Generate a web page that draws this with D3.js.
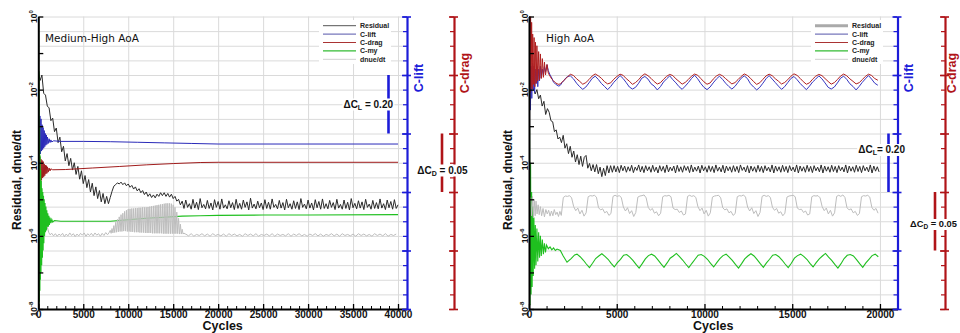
<!DOCTYPE html>
<html><head><meta charset="utf-8">
<script src="https://cdnjs.cloudflare.com/ajax/libs/d3/7.8.5/d3.min.js"></script>
<style>body{margin:0;background:#fff}svg{display:block;font-family:"Liberation Sans",Arial,sans-serif}</style>
</head><body><svg id="c" width="960" height="333"></svg>
<script>
// ---------------- shared labels / ticks ----------------
const legendNames = ["Residual","C-lift","C-drag","C-my","dnue/dt"];
const yLabelExps = [0,-2,-4,-6,-8];
const xTicksLeft = [0,5000,10000,15000,20000,25000,30000,35000,40000];
const xTicksRight = [0,5000,10000,15000,20000];
const liftDomain = [0,1.0];      // C-lift axis (unlabelled), major 0.20
const dragDomain = [0,0.25];     // C-drag axis (unlabelled), major 0.05
const titles = ["Medium-High AoA","High AoA"];

// ---------------- LEFT panel data (Medium-High AoA) ----------------
// residual log10, every 200 cycles from 0
const lResidStep = 200;
const lResid = [-1.50,-1.75,-1.60,-2.10,-2.15,-2.45,-2.50,-2.85,-2.78,-3.15,
-3.05,-3.45,-3.30,-3.70,-3.55,-3.95,-3.75,-4.08,-3.88,-4.20,
-4.00,-4.32,-4.10,-4.45,-4.22,-4.57,-4.35,-4.68,-4.46,-4.80,
-4.56,-4.90,-4.66,-4.98,-4.76,-5.07,-4.84,-5.12,-4.92,-5.12,
-4.95,-4.78,-4.64,-4.60,-4.55,-4.58,-4.53,-4.60,-4.55,-4.63,
-4.58,-4.67,-4.62,-4.72,-4.66,-4.77,-4.71,-4.82,-4.76,-4.87,
-4.80,-4.92,-4.85,-4.95,-4.88,-4.96,-4.86,-4.92,-4.82,-4.90,
-4.82,-4.92,-4.84,-4.94,-4.86,-4.98,-4.92,-5.05,-5.00,-5.15,
-5.05,
-5.25,-5.02,-5.22,-5.12,-5.27,-5.00,-5.24,-5.08,-5.28,-4.98,
-5.23,-5.14,-5.26,-5.03,-5.25,-5.10,-5.29,-5.01,-5.22,-5.06,
-5.27,-4.99,-5.24,-5.15,-5.26,-5.04,-5.23,-5.09,-5.28,-5.00,
-5.25,-5.11,-5.27,-5.02,-5.22,-5.07,-5.29,-4.97,-5.24,-5.13,
-5.26,-5.05,-5.23,-5.10,-5.28,-5.01,-5.25,-5.08,-5.27,-4.99,
-5.22,-5.14,-5.26,-5.03,-5.24,-5.09,-5.29,-5.00,-5.23,-5.12,
-5.27,-5.04,-5.25,-5.07,-5.28,-4.98,-5.22,-5.13,-5.26,-5.02,
-5.24,-5.10,-5.29,-5.01,-5.23,-5.06,-5.27,-4.99,-5.25,-5.12,
-5.26,-5.03,-5.22,-5.09,-5.28,-5.00,-5.24,-5.14,-5.27,-5.02,
-5.25,-5.08,-5.29,-4.98,-5.23,-5.11,-5.26,-5.04,-5.24,-5.07,
-5.28,-5.00,-5.22,-5.13,-5.27,-5.03,-5.25,-5.09,-5.26,-4.99,
-5.24,-5.12,-5.28,-5.02,-5.23,-5.06,-5.27,-5.01,-5.25,-5.15];
// C-lift [cycle, CL]
const lLift = [[0,0.60],[60,0.64],[120,0.55],[180,0.66],[240,0.53],[300,0.65],[360,0.54],[420,0.63],[480,0.545],[540,0.62],
[600,0.55],[660,0.61],[720,0.555],[780,0.60],[840,0.56],[900,0.595],[960,0.563],[1020,0.588],[1100,0.566],[1200,0.582],
[1300,0.569],[1400,0.578],[1500,0.571],[1700,0.575],[2500,0.573],[5000,0.573],[8000,0.572],[11000,0.570],[14000,0.568],
[17000,0.566],[20000,0.564],[25000,0.564],[30000,0.564],[35000,0.564],[40000,0.564]];
// C-drag [cycle, CD]
const lDrag = [[0,0.118],[60,0.126],[120,0.111],[180,0.130],[240,0.109],[300,0.128],[360,0.110],[420,0.127],[480,0.112],[540,0.126],
[600,0.113],[660,0.124],[720,0.114],[780,0.123],[840,0.1155],[900,0.1225],[960,0.116],[1020,0.1215],[1100,0.117],[1200,0.1205],
[1300,0.118],[1400,0.1198],[1600,0.1190],[3000,0.1192],[6000,0.1205],[9000,0.1218],[12000,0.1232],[15000,0.1243],[18000,0.1252],
[20000,0.1254],[30000,0.1254],[40000,0.1254]];
// C-my [cycle, log10]
const lMy = [[0,-8],[30,-0.2],[60,-8],[90,-1.5],[120,-7.8],[150,-3.0],[180,-7.5],[210,-3.8],[240,-7.2],[270,-4.2],
[300,-7.0],[340,-4.5],[380,-6.8],[420,-4.7],[460,-6.6],[500,-4.8],[540,-6.4],[580,-4.9],[620,-6.2],[660,-5.0],
[700,-6.0],[750,-5.1],[800,-5.9],[850,-5.2],[900,-5.85],[950,-5.3],[1000,-5.8],[1060,-5.38],[1120,-5.75],[1180,-5.45],
[1240,-5.70],[1300,-5.50],[1400,-5.65],[1500,-5.55],[1600,-5.62],[1800,-5.58],[2500,-5.60],[5000,-5.60],[8000,-5.60],
[10000,-5.56],[12000,-5.52],[14000,-5.49],[16000,-5.46],[18000,-5.45],[20000,-5.44],[25000,-5.43],[30000,-5.43],[40000,-5.42]];
// dnue/dt: early part [cycle, log10]
const lDnueEarly = [[1000,-5.75],[1150,-5.90],[1300,-5.97],[1500,-5.93],[1700,-6.00],[1900,-5.94],[2100,-6.01],[2300,-5.95],
[2500,-5.99],[2700,-5.93],[2900,-6.02],[3100,-5.95],[3300,-6.00],[3500,-5.92],[3700,-5.99],[3900,-5.94],[4100,-6.02],
[4300,-5.95],[4500,-6.00],[4700,-5.93],[4900,-5.98],[5100,-5.92],[5300,-6.01],[5500,-5.94],[5700,-5.99],[5900,-5.93],
[6100,-6.00],[6300,-5.92],[6500,-5.98],[6700,-5.94],[6900,-6.01],[7100,-5.93],[7300,-5.99],[7500,-5.91],[7700,-5.97],[7900,-5.90]];
// dnue/dt: dense oscillation band, upper and lower turning points every 200 cycles from 8000
const lDnueBandStart = 8000, lDnueBandStep = 200;
const lDnueHi = [-5.85,-5.80,-5.72,-5.63,-5.55,-5.48,-5.42,-5.38,-5.33,-5.30,
-5.27,-5.26,-5.25,-5.25,-5.24,-5.24,-5.23,-5.23,-5.22,-5.22,
-5.22,-5.21,-5.20,-5.19,-5.18,-5.17,-5.16,-5.15,-5.14,-5.13,
-5.12,-5.11,-5.11,-5.11,-5.12,-5.15,-5.22,-5.35,-5.52,-5.68,-5.82,-5.92];
const lDnueLo = [-5.93,-5.92,-5.91,-5.90,-5.89,-5.88,-5.88,-5.87,-5.87,-5.88,
-5.88,-5.89,-5.89,-5.90,-5.90,-5.90,-5.91,-5.91,-5.91,-5.92,
-5.92,-5.92,-5.92,-5.93,-5.93,-5.93,-5.93,-5.93,-5.93,-5.94,
-5.94,-5.94,-5.94,-5.94,-5.94,-5.94,-5.94,-5.94,-5.95,-5.95,-5.95,-5.95];
// dnue/dt: late part, every 300 cycles from 16400
const lDnueLateStart = 16400, lDnueLateStep = 300;
const lDnueLate = [-5.95,-6.00,-5.94,-6.01,-5.96,-5.99,-5.94,-6.00,-5.95,-6.01,
-5.94,-5.99,-5.96,-6.00,-5.95,-6.01,-5.94,-5.99,-5.95,-6.00,
-5.96,-6.01,-5.94,-5.99,-5.95,-6.00,-5.94,-6.01,-5.96,-5.99,
-5.95,-6.00,-5.94,-6.01,-5.95,-5.99,-5.96,-6.00,-5.94,-6.01,
-5.95,-5.99,-5.94,-6.00,-5.96,-6.01,-5.95,-5.99,-5.94,-6.00,
-5.95,-6.01,-5.96,-5.99,-5.94,-6.00,-5.95,-6.01,-5.94,-5.99,
-5.96,-6.00,-5.95,-6.01,-5.94,-5.99,-5.95,-6.00,-5.96,-6.01,
-5.94,-5.99,-5.95,-6.00,-5.94,-6.01,-5.96,-5.99,-5.95];

// ---------------- RIGHT panel data (High AoA) ----------------
const rResidEarly = [[250,-1.95],[350,-2.12],[450,-2.00],[550,-2.25],[650,-2.15],[750,-2.45],[850,-2.32],[950,-2.68],[1050,-2.52],
[1150,-2.62],[1250,-2.85],[1350,-2.88],[1450,-3.15],[1550,-3.10],[1650,-3.35],[1750,-3.30],[1850,-3.45],[1950,-3.25],[2050,-3.60],
[2150,-3.48],[2250,-3.75],[2350,-3.55],[2450,-3.85],[2550,-3.68],[2650,-3.98],[2750,-3.78],[2850,-4.05],[2950,-3.82],[3050,-4.10],
[3150,-3.85],[3250,-3.80],[3350,-4.15],[3450,-4.02],[3550,-4.22],[3650,-4.05],[3750,-4.25],[3850,-4.05],[3950,-4.30],[4050,-4.12],
[4150,-4.38],[4250,-4.15],[4350,-4.35],[4450,-4.08],[4550,-4.28],[4650,-4.08],[4750,-4.26]];
const rResidStart = 4850, rResidStep = 100;
const rResid = [-4.08,-4.25,-4.10,-4.27,-4.07,-4.22,-4.09,-4.26,-4.11,-4.23,
-4.07,-4.27,-4.12,-4.21,-4.06,-4.25,-4.10,-4.27,-4.08,-4.22,
-4.11,-4.26,-4.07,-4.24,-4.12,-4.28,-4.08,-4.23,-4.10,-4.27,
-4.06,-4.25,-4.12,-4.22,-4.09,-4.28,-4.07,-4.24,-4.11,-4.26,
-4.08,-4.21,-4.10,-4.27,-4.06,-4.25,-4.12,-4.23,-4.09,-4.28,
-4.07,-4.22,-4.11,-4.26,-4.08,-4.24,-4.10,-4.27,-4.06,-4.23,
-4.12,-4.25,-4.07,-4.28,-4.09,-4.22,-4.11,-4.26,-4.08,-4.24,
-4.10,-4.27,-4.06,-4.21,-4.12,-4.25,-4.08,-4.28,-4.09,-4.23,
-4.11,-4.26,-4.07,-4.24,-4.10,-4.27,-4.08,-4.22,-4.12,-4.25,
-4.06,-4.28,-4.09,-4.23,-4.11,-4.26,-4.07,-4.24,-4.10,-4.27,
-4.08,-4.22,-4.12,-4.25,-4.06,-4.28,-4.09,-4.23,-4.11,-4.26,
-4.07,-4.24,-4.10,-4.27,-4.08,-4.22,-4.12,-4.25,-4.06,-4.28,
-4.09,-4.23,-4.11,-4.26,-4.07,-4.24,-4.10,-4.27,-4.08,-4.22,
-4.12,-4.25,-4.06,-4.28,-4.09,-4.23,-4.11,-4.26,-4.07,-4.24,
-4.10,-4.27,-4.08,-4.22,-4.12,-4.25,-4.06,-4.28,-4.09,-4.23,-4.11,-4.25];
const rLiftEarly = [[0,0.70],[40,0.80],[80,0.68],[120,0.83],[160,0.72],[200,0.84],[240,0.75],[280,0.83],[320,0.74],[360,0.82],
[400,0.77],[450,0.83],[500,0.76],[550,0.82],[600,0.78],[650,0.83],[700,0.79],[760,0.82],[820,0.80],[880,0.83],[940,0.81],
[1026,0.835],[1100,0.815],[1200,0.80],[1300,0.79],[1400,0.775],[1500,0.77],[1600,0.765],[1700,0.762],[1786,0.765],
[1900,0.775],[2000,0.782],[2100,0.79],[2200,0.795]];
const rPeriodStart = 2356, rPeriodStep = 177;
const rLift = [0.797,0.787,0.772,0.760,0.751,0.759,0.773,0.788,
0.796,0.785,0.771,0.761,0.750,0.761,0.775,0.786,
0.798,0.788,0.774,0.759,0.752,0.758,0.772,0.789,
0.795,0.786,0.770,0.762,0.749,0.760,0.776,0.787,
0.797,0.784,0.773,0.760,0.751,0.762,0.774,0.788,
0.799,0.787,0.771,0.758,0.750,0.759,0.773,0.786,
0.796,0.785,0.772,0.761,0.752,0.761,0.775,0.789,
0.797,0.788,0.770,0.759,0.749,0.758,0.772,0.787,
0.798,0.786,0.774,0.762,0.751,0.760,0.774,0.788,
0.795,0.784,0.771,0.760,0.750,0.762,0.776,0.786,
0.797,0.787,0.773,0.758,0.752,0.759,0.773,0.789,
0.796,0.785,0.770,0.761,0.749,0.761,0.775,0.787,
0.798,0.786,0.772,0.765];
const rDragEarly = [[0,0.19],[30,0.255],[60,0.185],[90,0.25],[120,0.19],[150,0.245],[180,0.188],[210,0.235],[250,0.192],[290,0.232],
[330,0.19],[370,0.228],[410,0.193],[450,0.225],[500,0.195],[550,0.22],[600,0.196],[650,0.218],[700,0.197],[760,0.214],
[820,0.198],[880,0.211],[940,0.200],[1026,0.209],[1100,0.2015],[1200,0.199],[1300,0.1965],[1400,0.195],[1500,0.1935],
[1600,0.1925],[1700,0.192],[1786,0.1925],[1900,0.194],[2000,0.1955],[2100,0.197],[2200,0.1985]];
const rDrag = [0.2006,0.1996,0.1968,0.1946,0.1921,0.1935,0.1961,0.1991,
0.2009,0.1993,0.1972,0.1943,0.1924,0.1933,0.1964,0.1988,
0.2007,0.1997,0.1969,0.1947,0.1920,0.1936,0.1960,0.1992,
0.2010,0.1994,0.1971,0.1944,0.1923,0.1934,0.1963,0.1989,
0.2005,0.1995,0.1967,0.1945,0.1922,0.1937,0.1962,0.1990,
0.2008,0.1998,0.1970,0.1942,0.1921,0.1932,0.1965,0.1991,
0.2006,0.1993,0.1969,0.1946,0.1924,0.1935,0.1961,0.1988,
0.2009,0.1996,0.1972,0.1944,0.1920,0.1934,0.1963,0.1992,
0.2007,0.1994,0.1968,0.1947,0.1923,0.1936,0.1960,0.1989,
0.2010,0.1997,0.1971,0.1943,0.1921,0.1933,0.1964,0.1990,
0.2005,0.1995,0.1970,0.1945,0.1922,0.1935,0.1962,0.1991,
0.2008,0.1993,0.1967,0.1946,0.1924,0.1934,0.1961,0.1988,
0.2007,0.1996,0.1970,0.1955];
const rMyEarly = [[0,-8],[30,-3.0],[60,-7.9],[90,-4.0],[120,-7.6],[150,-4.8],[180,-7.4],[210,-5.2],[240,-7.1],[280,-5.5],
[320,-6.9],[360,-5.7],[400,-6.8],[450,-5.8],[500,-6.7],[550,-5.9],[600,-6.6],[650,-6.0],[700,-6.55],[760,-6.1],
[820,-6.5],[880,-6.2],[940,-6.45],[1000,-6.25],[1100,-6.35],[1200,-6.30],[1300,-6.38],[1400,-6.33],[1500,-6.40],
[1600,-6.36],[1786,-6.40],[1950,-6.55],[2166,-6.72],[2400,-6.62],[2600,-6.52]];
const rMyStart = 2736, rMyStep = 177;
const rMy = [-6.50,-6.57,-6.66,-6.77,-6.87,-6.75,-6.62,-6.55,
-6.49,-6.56,-6.64,-6.75,-6.85,-6.73,-6.64,-6.53,
-6.51,-6.58,-6.67,-6.78,-6.88,-6.76,-6.63,-6.54,
-6.50,-6.55,-6.65,-6.76,-6.86,-6.74,-6.61,-6.55,
-6.48,-6.57,-6.66,-6.77,-6.87,-6.75,-6.64,-6.53,
-6.51,-6.56,-6.64,-6.75,-6.85,-6.73,-6.62,-6.54,
-6.50,-6.58,-6.67,-6.78,-6.88,-6.76,-6.63,-6.55,
-6.49,-6.55,-6.65,-6.76,-6.86,-6.74,-6.64,-6.53,
-6.51,-6.57,-6.66,-6.77,-6.87,-6.75,-6.61,-6.54,
-6.50,-6.56,-6.64,-6.75,-6.85,-6.73,-6.63,-6.55,
-6.48,-6.58,-6.67,-6.78,-6.88,-6.76,-6.62,-6.53,
-6.51,-6.55,-6.65,-6.76,-6.86,-6.74,-6.64,-6.54,
-6.50,-6.57];
const rDnueEarly = [[100,-4.95],[150,-5.45],[200,-4.92],[250,-5.50],[300,-5.00],[350,-5.45],[400,-5.05],[460,-5.40],[520,-5.15],
[580,-5.42],[650,-5.20],[720,-5.45],[800,-5.25],[880,-5.48],[960,-5.28],[1040,-5.40],[1120,-5.30],[1200,-5.46],[1280,-5.32],
[1360,-5.45],[1440,-5.28],[1520,-5.42],[1600,-5.35],[1680,-5.47],[1760,-5.33],[1840,-5.44]];
const rDnueStart = 1956, rDnueStep = 118;
const rDnue = [-4.95,-4.91,-4.92,-4.90,-4.96,-5.20,-5.31,-5.24,-5.40,-5.30,-5.46,-5.37,
-4.93,-4.90,-4.91,-4.89,-4.94,-5.23,-5.29,-5.26,-5.37,-5.33,-5.44,-5.39,
-4.92,-4.89,-4.92,-4.90,-4.95,-5.21,-5.32,-5.23,-5.39,-5.31,-5.47,-5.36,
-4.94,-4.91,-4.90,-4.88,-4.96,-5.22,-5.30,-5.25,-5.38,-5.34,-5.45,-5.38,
-4.93,-4.90,-4.91,-4.89,-4.93,-5.24,-5.28,-5.27,-5.36,-5.32,-5.43,-5.40,
-4.92,-4.89,-4.92,-4.90,-4.95,-5.20,-5.31,-5.24,-5.40,-5.30,-5.46,-5.37,
-4.94,-4.91,-4.90,-4.89,-4.96,-5.23,-5.29,-5.26,-5.37,-5.33,-5.44,-5.39,
-4.93,-4.90,-4.91,-4.88,-4.94,-5.21,-5.32,-5.23,-5.39,-5.31,-5.47,-5.36,
-4.92,-4.89,-4.92,-4.90,-4.95,-5.22,-5.30,-5.25,-5.38,-5.34,-5.45,-5.38,
-4.94,-4.91,-4.90,-4.89,-4.93,-5.24,-5.28,-5.27,-5.36,-5.32,-5.43,-5.40,
-4.93,-4.90,-4.91,-4.90,-4.96,-5.20,-5.31,-5.24,-5.40,-5.30,-5.46,-5.37,
-4.92,-4.89,-4.92,-4.88,-4.95,-5.23,-5.29,-5.26,-5.37,-5.33,-5.44,-5.39,
-4.93,-4.90,-4.91,-4.89,-4.94,-5.22,-5.30,-5.25,-5.38];

// ---------------- helpers ----------------
const stepped = (start, step, vals) => vals.map((v,i)=>[start+i*step, v]);
const zigzag = (start, step, hi, lo) => {
  const out=[]; const n=Math.min(hi.length, lo.length);
  for(let i=0;i<n;i++){ out.push([start+i*step, hi[i]]); out.push([start+i*step+step/2, lo[i]]); }
  return out;
};

const svg = d3.select("#c");
const FONT = '"Liberation Sans",Arial,sans-serif';
const BLUE = "#1c1cd8", RED = "#b01418";

function panel(cfg){
  const yT = 16.5, yB = 309;
  const x = d3.scaleLinear().domain([0,cfg.xMax]).range([cfg.x0,cfg.x1]);
  const y = d3.scaleLog().domain([1e-8,1]).range([yB,yT]);
  const yL = d3.scaleLinear().domain(liftDomain).range([yB,yT]);
  const yD = d3.scaleLinear().domain(dragDomain).range([yB,yT]);
  const g = svg.append("g");
  const clipId = "clip"+cfg.id;
  svg.append("defs").append("clipPath").attr("id",clipId).append("rect")
    .attr("x",cfg.x0).attr("y",yT).attr("width",cfg.x1-cfg.x0).attr("height",yB-yT);

  // grid: horizontal from the C-lift minor ticks, vertical from major cycle ticks
  const gh = g.append("g").attr("transform",`translate(${cfg.x0},0)`)
    .call(d3.axisLeft(yL).tickValues(d3.range(0,21).map(i=>i*0.05)).tickSize(-(cfg.x1-cfg.x0)).tickFormat(""));
  gh.select(".domain").remove();
  gh.selectAll("line").attr("stroke","#dadada");
  const gv = g.append("g").attr("transform",`translate(0,${yB})`)
    .call(d3.axisBottom(x).tickValues(cfg.xTicks.filter(d=>d>0)).tickSize(-(yB-yT)).tickFormat(""));
  gv.select(".domain").remove();
  gv.selectAll("line").attr("stroke","#dadada");

  // series
  const plot = g.append("g").attr("clip-path",`url(#${clipId})`);
  const logLine = d3.line().x(d=>x(d[0])).y(d=>y(Math.pow(10,d[1])));
  const liftLine = d3.line().x(d=>x(d[0])).y(d=>yL(d[1]));
  const dragLine = d3.line().x(d=>x(d[0])).y(d=>yD(d[1]));
  const S = cfg.series;
  plot.append("path").attr("d",logLine(S.resid)).attr("fill","none").attr("stroke","#2a2a2a").attr("stroke-width",1);
  plot.append("path").attr("d",liftLine(S.lift)).attr("fill","none").attr("stroke",cfg.liftColor).attr("stroke-width",1);
  plot.append("path").attr("d",dragLine(S.drag)).attr("fill","none").attr("stroke",cfg.dragColor).attr("stroke-width",1);
  plot.append("path").attr("d",logLine(S.my)).attr("fill","none").attr("stroke","#1fbf1f").attr("stroke-width",1.1);
  plot.append("path").attr("d",logLine(S.dnue)).attr("fill","none").attr("stroke","#bdbdbd").attr("stroke-width",1);

  // left log axis
  const decades = d3.range(0,9).map(k=>Math.pow(10,-k));
  const la = g.append("g").attr("transform",`translate(${cfg.x0},0)`)
    .call(d3.axisLeft(y).tickValues(decades).tickSize(-5).tickSizeOuter(0).tickFormat(""));
  la.select(".domain").attr("stroke","#000").attr("stroke-width",2);
  la.selectAll("line").attr("stroke","#000").attr("stroke-width",1.3);
  yLabelExps.forEach(e=>{
    const t = g.append("text").attr("transform",`translate(${cfg.x0-1.5},${y(Math.pow(10,e))}) rotate(-90)`)
      .attr("text-anchor","middle").attr("font-size",8.5).attr("font-weight","bold").attr("fill","#111");
    t.append("tspan").text("10");
    t.append("tspan").attr("dy",-3.5).attr("font-size",6).text(e);
  });
  g.append("text").attr("transform",`translate(${cfg.x0-17},180) rotate(-90)`).attr("text-anchor","middle")
    .attr("font-size",12).attr("font-weight","bold").attr("fill","#111").text("Residual, dnue/dt");

  // bottom axis
  const minors = d3.range(0,cfg.xMax+1,1000).filter(d=>d%5000!==0 && d<=cfg.xTicks[cfg.xTicks.length-1]+1000);
  const bm = g.append("g").attr("transform",`translate(0,${yB})`)
    .call(d3.axisBottom(x).tickValues(minors).tickSize(-3).tickFormat(""));
  bm.select(".domain").remove(); bm.selectAll("line").attr("stroke","#000");
  const ba = g.append("g").attr("transform",`translate(0,${yB})`)
    .call(d3.axisBottom(x).tickValues(cfg.xTicks).tickSize(-5).tickSizeOuter(0).tickPadding(1.5).tickFormat(d=>d));
  ba.select(".domain").attr("stroke","#000").attr("stroke-width",2);
  ba.selectAll("line").attr("stroke","#000").attr("stroke-width",1.3);
  ba.selectAll("text").attr("font-size",10).attr("font-weight","bold").attr("font-family",FONT).attr("fill","#111");
  g.append("text").attr("x",(cfg.x0+cfg.x1)/2).attr("y",330).attr("text-anchor","middle")
    .attr("font-size",12.5).attr("font-weight","bold").attr("fill","#111").text("Cycles");

  // C-lift and C-drag axes
  const coefAxis = (ax, sc, color, majors, minorsV) => {
    const a1 = g.append("g").attr("transform",`translate(${ax},0)`)
      .call(d3.axisLeft(sc).tickValues(minorsV).tickSize(4).tickSizeOuter(0).tickFormat(""));
    a1.select(".domain").attr("stroke",color).attr("stroke-width",2.2);
    a1.selectAll("line").attr("stroke",color).attr("stroke-width",1.2);
    const a2 = g.append("g").attr("transform",`translate(${ax},0)`)
      .call(d3.axisLeft(sc).tickValues(majors).tickSize(5).tickFormat(""));
    a2.select(".domain").remove(); a2.selectAll("line").attr("stroke",color).attr("stroke-width",1.6);
    const a3 = g.append("g").attr("transform",`translate(${ax},0)`)
      .call(d3.axisRight(sc).tickValues(majors).tickSize(4).tickFormat(""));
    a3.select(".domain").remove(); a3.selectAll("line").attr("stroke",color).attr("stroke-width",1.6);
  };
  coefAxis(cfg.x1, yL, BLUE, d3.range(0,6).map(i=>i*0.2), d3.range(0,21).map(i=>i*0.05));
  coefAxis(cfg.redX, yD, RED, d3.range(0,6).map(i=>i*0.05), d3.range(0,21).map(i=>i*0.0125));
  g.append("text").attr("transform",`translate(${cfg.x1+cfg.liftLabDx},78) rotate(-90)`).attr("text-anchor","middle")
    .attr("font-size",12.5).attr("font-weight","bold").attr("fill",BLUE).text("C-lift");
  g.append("text").attr("transform",`translate(${cfg.redX+cfg.dragLabDx},73) rotate(-90)`).attr("text-anchor","middle")
    .attr("font-size",12.5).attr("font-weight","bold").attr("fill",RED).text("C-drag");

  // delta annotations
  const delta = (bx, yA, yBb, color, sub, val, tx, ty, anchor, fs) => {
    g.append("line").attr("x1",bx).attr("x2",bx).attr("y1",yA).attr("y2",yBb).attr("stroke",color).attr("stroke-width",2.6);
    const t = g.append("text").attr("x",tx).attr("y",ty).attr("text-anchor",anchor)
      .attr("font-size",fs).attr("font-weight","bold").attr("fill","#111");
    t.append("tspan").text("\u0394C");
    t.append("tspan").attr("font-size",fs*0.7).attr("dy",2).text(sub);
    t.append("tspan").attr("dy",-2).text(val);
    const bb = t.node().getBBox();
    g.insert("rect", () => t.node()).attr("x",bb.x-1).attr("y",bb.y).attr("width",bb.width+2).attr("height",bb.height).attr("fill","#fff");
  };
  const A = cfg.ann;
  delta(A.lx, yL(A.l0), yL(A.l1), BLUE, "L", A.lval, A.ltx, A.lty, A.lanchor, A.lfs);
  delta(A.dx, yD(A.d0), yD(A.d1), RED, "D", A.dval, A.dtx, A.dty, A.danchor, A.dfs);

  // legend
  const L = cfg.legend;
  g.append("rect").attr("x",L.x-4).attr("y",20).attr("width",L.w).attr("height",44).attr("fill","#fff");
  const lc = cfg.legendStyles;
  legendNames.forEach((n,i)=>{
    const yy = 25.7 + i*8.4;
    g.append("line").attr("x1",L.x).attr("x2",L.x+33).attr("y1",yy).attr("y2",yy)
      .attr("stroke",lc[i][0]).attr("stroke-width",lc[i][1]);
    g.append("text").attr("x",L.x+37).attr("y",yy+2.5).attr("font-size",7).attr("font-weight","bold").attr("fill","#222").text(n);
  });

  // title
  g.append("text").attr("x",cfg.titleX).attr("y",42).attr("font-family","'DejaVu Sans',Verdana,sans-serif")
    .attr("font-size",10.5).attr("fill","#111").text(cfg.title);
}

// ---------------- build series ----------------
const leftSeries = {
  resid: stepped(0, lResidStep, lResid),
  lift: lLift, drag: lDrag, my: lMy,
  dnue: lDnueEarly.concat(zigzag(lDnueBandStart, lDnueBandStep, lDnueHi, lDnueLo), stepped(lDnueLateStart, lDnueLateStep, lDnueLate))
};
const rightSeries = {
  resid: rResidEarly.concat(stepped(rResidStart, rResidStep, rResid)),
  lift: rLiftEarly.concat(stepped(rPeriodStart, rPeriodStep, rLift)),
  drag: rDragEarly.concat(stepped(rPeriodStart, rPeriodStep, rDrag)),
  my: rMyEarly.concat(stepped(rMyStart, rMyStep, rMy)),
  dnue: rDnueEarly.concat(stepped(rDnueStart, rDnueStep, rDnue))
};

panel({id:"L", x0:38.3, x1:407, xMax:41000, xTicks:xTicksLeft, redX:454, title:titles[0], titleX:45,
  liftLabDx:16, dragLabDx:15, liftColor:"#2a2ab8", dragColor:"#a01c1c", series:leftSeries,
  legend:{x:323, w:72},
  legendStyles:[["#555",1],["#5555aa",1],["#aa3333",1],["#33bb33",1.2],["#cfcfcf",1]],
  ann:{lx:388.5, l0:0.8, l1:0.6, lval:" = 0.20", ltx:393, lty:107.5, lanchor:"end", lfs:10,
       dx:442, d0:0.15, d1:0.10, dval:" = 0.05", dtx:442.5, dty:173.5, danchor:"middle", dfs:10}});
panel({id:"R", x0:529, x1:897.5, xMax:21000, xTicks:xTicksRight, redX:945, title:titles[1], titleX:546,
  liftLabDx:15.5, dragLabDx:11, liftColor:"#3535c0", dragColor:"#b02020", series:rightSeries,
  legend:{x:815, w:72},
  legendStyles:[["#aaaaaa",3],["#5555aa",1],["#aa3333",1],["#33bb33",1.2],["#cfcfcf",1]],
  ann:{lx:888.5, l0:0.6, l1:0.4, lval:"= 0.20", ltx:905, lty:153, lanchor:"end", lfs:10,
       dx:935, d0:0.10, d1:0.05, dval:" = 0.05", dtx:910, dty:227, danchor:"start", dfs:9.3}});
</script></body></html>
